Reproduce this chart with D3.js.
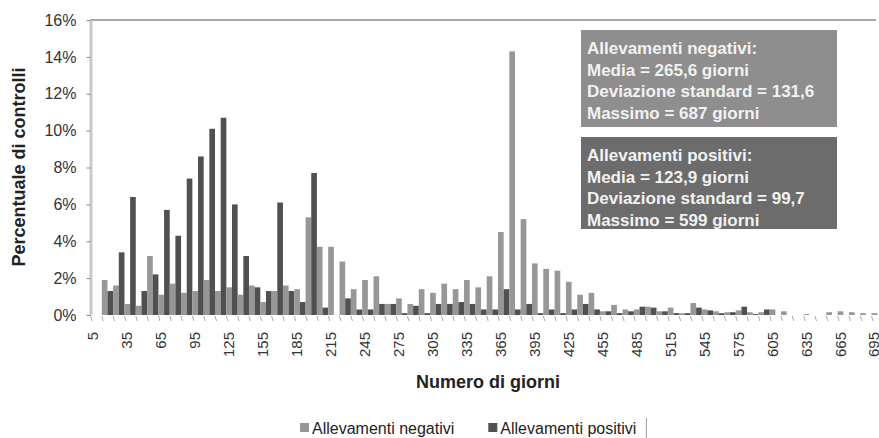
<!DOCTYPE html>
<html>
<head>
<meta charset="utf-8">
<script src="https://cdn.jsdelivr.net/npm/d3@7"></script>
<style>
body { margin: 0; background: #fff; }
svg { display: block; font-family: "Liberation Sans", Arial, sans-serif; }
</style>
</head>
<body>
<svg id="chart" width="879" height="438"></svg>
<script>
// classes of 10 days, labelled by their midpoint
const categories = [
    "5","15","25","35","45","55","65","75","85","95",
    "105","115","125","135","145","155","165","175","185","195",
    "205","215","225","235","245","255","265","275","285","295",
    "305","315","325","335","345","355","365","375","385","395",
    "405","415","425","435","445","455","465","475","485","495",
    "505","515","525","535","545","555","565","575","585","595",
    "605","615","625","635","645","655","665","675","685","695"
];
const tickLabels = ["5","35","65","95","125","155","185","215","245","275","305","335",
    "365","395","425","455","485","515","545","575","605","635","665","695"];

// percentuale di controlli (%)
const negativi = [
    0, 1.9, 1.6, 0.6, 0.5, 3.2, 1.1, 1.7, 1.2, 1.3,
    1.9, 1.3, 1.5, 1.1, 1.6, 0.7, 1.3, 1.6, 1.4, 5.3,
    3.7, 3.7, 2.9, 1.4, 1.9, 2.1, 0.6, 0.9, 0.6, 1.4,
    1.2, 1.7, 1.4, 1.9, 1.5, 2.1, 4.5, 14.3, 5.2, 2.8,
    2.5, 2.4, 1.8, 1.1, 1.2, 0.2, 0.55, 0.3, 0.3, 0.45,
    0.2, 0.4, 0.1, 0.65, 0.3, 0.2, 0.15, 0.25, 0.15, 0.15,
    0.3, 0.2, 0, 0.05, 0, 0.15, 0.2, 0.15, 0.1, 0.1
];
const positivi = [
    0, 1.3, 3.4, 6.4, 1.3, 2.2, 5.7, 4.3, 7.4, 8.6,
    10.1, 10.7, 6.0, 3.2, 1.5, 1.3, 6.1, 1.3, 0.7, 7.7,
    0.4, 0, 0.9, 0.3, 0.3, 0.6, 0.6, 0.1, 0.5, 0.1,
    0.6, 0.6, 0.7, 0.6, 0.3, 0.3, 1.4, 0.3, 0.6, 0.1,
    0.3, 0.1, 0.3, 0.6, 0.3, 0.2, 0.1, 0.2, 0.45, 0.4,
    0.2, 0.1, 0.1, 0.4, 0.25, 0.1, 0.15, 0.45, 0.05, 0.3,
    0, 0, 0, 0, 0, 0, 0, 0, 0, 0
];
const seriesNames = ["Allevamenti negativi", "Allevamenti positivi"];
const yTicks = [0, 2, 4, 6, 8, 10, 12, 14, 16];

const boxNegativi = ["Allevamenti negativi:", "Media = 265,6 giorni", "Deviazione standard = 131,6", "Massimo = 687 giorni"];
const boxPositivi = ["Allevamenti positivi:", "Media = 123,9 giorni", "Deviazione standard = 99,7", "Massimo = 599 giorni"];

const colors = { neg: "#979797", pos: "#505050" };

const svg = d3.select("#chart");
const plotLeft = 90.5, plotTop = 20, plotBottom = 315, bandW = 11.32;

const x = d3.scaleBand()
    .domain(categories)
    .range([plotLeft, plotLeft + bandW * categories.length]);
const xs = d3.scaleBand().domain(["neg", "pos"]).range([0, x.bandwidth()]);
const y = d3.scaleLinear().domain([0, 16]).range([plotBottom, plotTop]);

// top border of plot area
svg.append("line")
    .attr("x1", plotLeft).attr("x2", 876)
    .attr("y1", y(16)).attr("y2", y(16))
    .attr("stroke", "#555").attr("stroke-width", 1.2);

// bars
const rows = categories.map((c, i) => ({ cat: c, neg: negativi[i], pos: positivi[i] }));
svg.append("g").selectAll("g")
    .data(rows)
    .join("g")
    .attr("transform", d => `translate(${x(d.cat)},0)`)
    .selectAll("rect")
    .data(d => ["neg", "pos"].map(k => ({ k: k, v: d[k] })))
    .join("rect")
    .attr("x", d => xs(d.k))
    .attr("width", xs.bandwidth())
    .attr("y", d => y(d.v))
    .attr("height", d => y(0) - y(d.v))
    .attr("fill", d => colors[d.k]);

// category tick marks under the bars
svg.append("g").selectAll("line")
    .data(categories)
    .join("line")
    .attr("x1", d => x(d)).attr("x2", d => x(d) + 1.5)
    .attr("y1", plotBottom + 1).attr("y2", plotBottom + 6)
    .attr("stroke", "#aaa");

// y axis
const yAxis = svg.append("g")
    .attr("transform", `translate(${plotLeft},0)`)
    .call(d3.axisLeft(y).tickValues(yTicks).tickSize(4).tickSizeOuter(0).tickPadding(10).tickFormat(d => d + "%"));
yAxis.select(".domain").attr("stroke", "#c8c8c8").attr("stroke-width", 3);
yAxis.selectAll(".tick line").attr("stroke", "#888");
yAxis.selectAll("text").style("font-size", "16px").attr("fill", "#333");

// x axis labels (rotated)
const xAxis = svg.append("g")
    .attr("transform", `translate(0,${plotBottom})`)
    .call(d3.axisBottom(x).tickValues(tickLabels).tickSize(0));
xAxis.select(".domain").remove();
xAxis.selectAll("text")
    .attr("transform", "rotate(-90)")
    .attr("x", -17)
    .attr("y", 0)
    .attr("dy", "0.15em")
    .style("text-anchor", "end")
    .style("font-size", "15px")
    .attr("fill", "#333");

// axis titles
svg.append("text")
    .attr("transform", "translate(19,167) rotate(-90)")
    .attr("text-anchor", "middle")
    .attr("dy", "0.35em")
    .style("font-size", "18px")
    .style("font-weight", "bold")
    .attr("fill", "#222")
    .text("Percentuale di controlli");

svg.append("text")
    .attr("x", 488).attr("y", 382)
    .attr("text-anchor", "middle")
    .attr("dy", "0.35em")
    .style("font-size", "18px")
    .style("font-weight", "bold")
    .attr("fill", "#222")
    .text("Numero di giorni");

// statistics boxes
function statBox(lines, y0, h, fill) {
    svg.append("rect")
        .attr("x", 581).attr("y", y0)
        .attr("width", 256).attr("height", h)
        .attr("fill", fill);
    svg.append("g").selectAll("text")
        .data(lines)
        .join("text")
        .attr("x", 587)
        .attr("y", (d, i) => y0 + 18 + i * 21.7)
        .attr("dy", "0.35em")
        .style("font-size", "17px")
        .style("font-weight", "bold")
        .attr("fill", "#f2f2f2")
        .text(d => d);
}
statBox(boxNegativi, 30, 97, "#8e8e8e");
statBox(boxPositivi, 137, 92, "#6c6c6c");

// legend
const legend = svg.append("g").attr("transform", "translate(300,428)");
let lx = 0;
seriesNames.forEach((name, i) => {
    legend.append("rect")
        .attr("x", lx).attr("y", -5)
        .attr("width", 9).attr("height", 9)
        .attr("fill", i === 0 ? colors.neg : colors.pos);
    const t = legend.append("text")
        .attr("x", lx + 12).attr("y", 0)
        .attr("dy", "0.35em")
        .style("font-size", "16px")
        .attr("fill", "#222")
        .text(name);
    lx += 12 + t.node().getComputedTextLength() + 34;
});
legend.append("line")
    .attr("x1", lx - 24).attr("x2", lx - 24)
    .attr("y1", -10).attr("y2", 10)
    .attr("stroke", "#999");
</script>
</body>
</html>
